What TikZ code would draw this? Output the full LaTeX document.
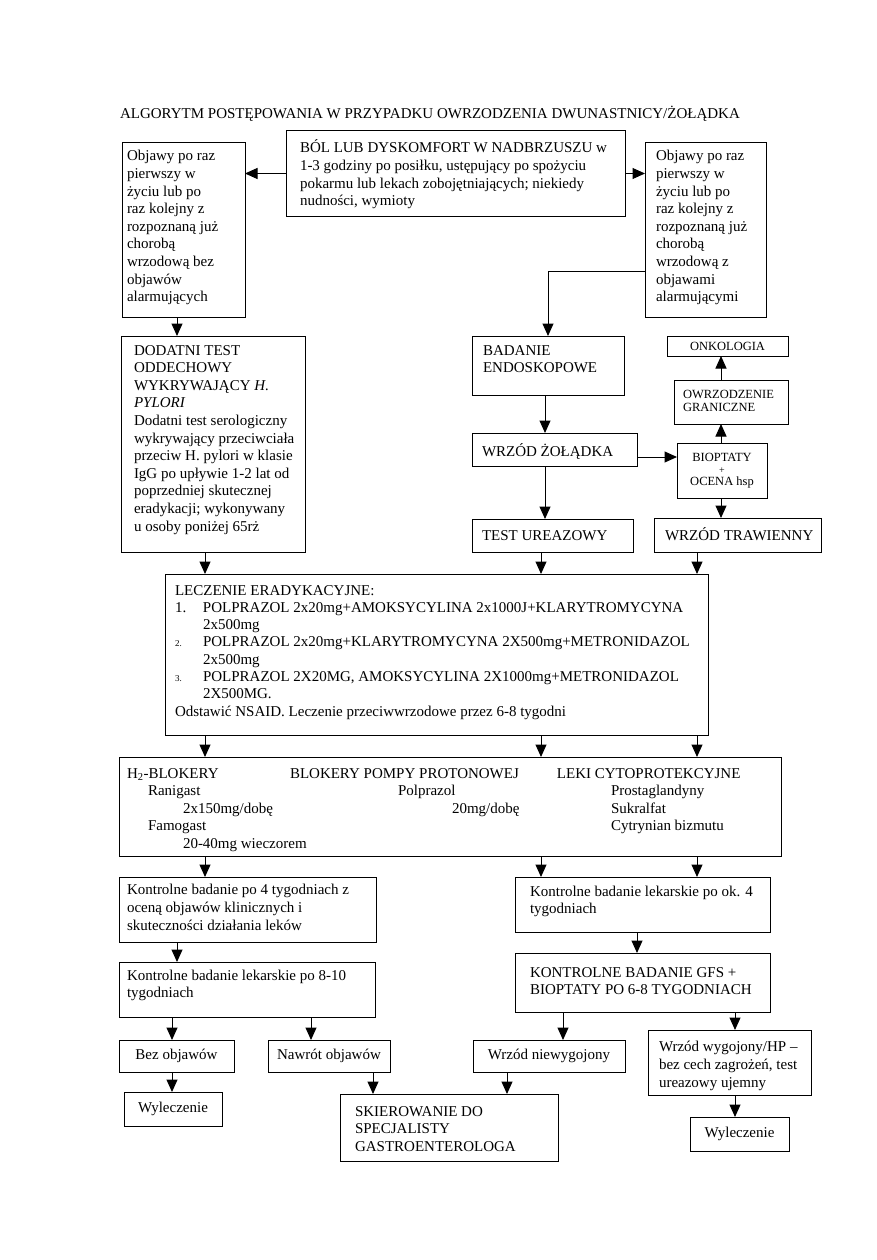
\documentclass[tikz,border=0pt]{standalone}
\usepackage{fontspec}
\setmainfont{Liberation Serif}
\usetikzlibrary{arrows.meta}
\newcommand\fmain{\fontsize{15}{17.6}\selectfont}
\newcommand\flec{\fontsize{15}{17.3}\selectfont}
\newcommand\fsmall{\fontsize{12.5}{13.5}\selectfont}
\newcommand\fbio{\fontsize{12.5}{12}\selectfont}
\newcommand\rl[1]{\leavevmode\rlap{#1}\par}
\newcommand\at[2]{\leavevmode\rlap{\hspace*{#1pt}#2}}
\tikzset{
  bxs/.style={draw, line width=1pt, inner ysep=0pt, outer sep=0pt, anchor=north west},
  arr/.style={-{Triangle[length=12.5pt,width=11pt]}, line width=1pt}
}
% name x1 y1 x2 y2 padx baseline font content
\newcommand\mybox[9]{%
  \pgfmathsetlengthmacro\mbw{(#4)-(#2)}%
  \pgfmathsetlengthmacro\mbh{(#5)-(#3)}%
  \pgfmathsetlengthmacro\mbt{(#4)-(#2)-2*(#6)}%
  \node[bxs, minimum width=\mbw, minimum height=\mbh, inner xsep=#6pt] (#1) at (#2,#3)
   {\parbox[c][\mbh][t]{\mbt}{#8\raggedright\vspace*{\dimexpr#7pt-\baselineskip\relax}\hbox{}#9}};}
% name x1 y1 x2 y2 font text
\newcommand\cbox[7]{%
  \pgfmathsetlengthmacro\mbw{(#4)-(#2)}%
  \pgfmathsetlengthmacro\mbh{(#5)-(#3)}%
  \node[bxs, minimum width=\mbw, minimum height=\mbh, align=center, font=#6] (#1) at (#2,#3) {#7};}
\begin{document}
\begin{tikzpicture}[x=1pt,y=-1pt]
\useasboundingbox (0,0) rectangle (876,1260);
\node[font=\fmain] (title) at (430,114) {ALGORYTM POSTĘPOWANIA W PRZYPADKU OWRZODZENIA DWUNASTNICY/ŻOŁĄDKA};

\mybox{L1}{122}{143}{245}{317}{5}{18}{\fmain}{\rl{Objawy po raz}\rl{pierwszy w}\rl{życiu lub po}\rl{raz kolejny z}\rl{rozpoznaną już}\rl{chorobą}\rl{wrzodową bez}\rl{objawów}\rl{alarmujących}}
\mybox{T}{286}{131}{625}{216}{14}{22}{\fmain}{\rl{BÓL LUB DYSKOMFORT W NADBRZUSZU w}\rl{1-3 godziny po posiłku, ustępujący po spożyciu}\rl{pokarmu lub lekach zobojętniających; niekiedy}\rl{nudności, wymioty}}
\mybox{R1}{645}{143}{766}{317}{11}{18}{\fmain}{\rl{Objawy po raz}\rl{pierwszy w}\rl{życiu lub po}\rl{raz kolejny z}\rl{rozpoznaną już}\rl{chorobą}\rl{wrzodową z}\rl{objawami}\rl{alarmującymi}}
\mybox{D}{121}{336}{305}{552}{13}{19}{\fmain}{\rl{DODATNI TEST}\rl{ODDECHOWY}\rl{WYKRYWAJĄCY \textit{H.}}\rl{\textit{PYLORI}}\rl{Dodatni test serologiczny}\rl{wykrywający przeciwciała}\rl{przeciw H. pylori w klasie}\rl{IgG po upływie 1-2 lat od}\rl{poprzedniej skutecznej}\rl{eradykacji; wykonywany}\rl{u osoby poniżej 65rż}}
\mybox{B}{472}{336}{624}{395}{11}{19}{\fmain}{\rl{BADANIE}\rl{ENDOSKOPOWE}}
\cbox{ONK}{667}{336}{788}{356}{\fbio}{ONKOLOGIA}
\mybox{OWR}{674}{380}{788}{424}{9}{18}{\fsmall}{\rl{OWRZODZENIE}\rl{GRANICZNE}}
\mybox{WZ}{472}{433}{637}{466}{10}{23}{\fmain}{\rl{WRZÓD ŻOŁĄDKA}}
\cbox{BIO}{677}{443}{767}{498}{\fbio}{BIOPTATY\\{\fontsize{10}{12}\selectfont +}\\OCENA hsp}
\mybox{TU}{472}{519}{633}{552}{10}{21}{\fmain}{\rl{TEST UREAZOWY}}
\mybox{WT}{654}{518}{821}{552}{11}{22}{\fmain}{\rl{WRZÓD TRAWIENNY}}

\mybox{LEC}{165}{574}{708}{735}{10}{21}{\flec}{%
\at{0}{LECZENIE ERADYKACYJNE:}\par
\at{0}{1.}\at{28}{POLPRAZOL 2x20mg+AMOKSYCYLINA 2x1000J+KLARYTROMYCYNA}\par
\at{28}{2x500mg}\par
\at{0}{\fontsize{9}{10}\selectfont 2.}\at{28}{POLPRAZOL 2x20mg+KLARYTROMYCYNA 2X500mg+METRONIDAZOL}\par
\at{28}{2x500mg}\par
\at{0}{\fontsize{9}{10}\selectfont 3.}\at{28}{POLPRAZOL 2X20MG, AMOKSYCYLINA 2X1000mg+METRONIDAZOL}\par
\at{28}{2X500MG.}\par
\at{0}{Odstawić NSAID. Leczenie przeciwwrzodowe przez 6-8 tygodni}\par}

\mybox{H2}{119}{757}{781}{856}{8}{21}{\fontsize{15}{17.5}\selectfont}{%
\at{0}{H\textsubscript{2}-BLOKERY}\at{163}{BLOKERY POMPY PROTONOWEJ}\at{430}{LEKI CYTOPROTEKCYJNE}\par
\at{21}{Ranigast}\at{271}{Polprazol}\at{484}{Prostaglandyny}\par
\at{56}{2x150mg/dobę}\at{325}{20mg/dobę}\at{484}{Sukralfat}\par
\at{21}{Famogast}\at{484}{Cytrynian bizmutu}\par
\at{56}{20-40mg wieczorem}\par}

\mybox{K4L}{119}{877}{376}{942}{8}{17}{\fontsize{15}{18}\selectfont}{\rl{Kontrolne badanie po 4 tygodniach z}\rl{oceną objawów klinicznych i}\rl{skuteczności działania leków}}
\mybox{K4R}{515}{877}{770}{932}{15}{19}{\fmain}{\rl{Kontrolne badanie lekarskie po ok. 4}\rl{tygodniach}}
\mybox{K810}{119}{962}{375}{1017}{8}{18}{\fmain}{\rl{Kontrolne badanie lekarskie po 8-10}\rl{tygodniach}}
\mybox{GFS}{515}{953}{770}{1012}{15}{24}{\fmain}{\rl{KONTROLNE BADANIE GFS +}\rl{BIOPTATY PO 6-8 TYGODNIACH}}
\cbox{Bez}{119}{1040}{234}{1072}{\fmain}{Bez objawów}
\cbox{Naw}{268}{1040}{390}{1072}{\fmain}{Nawrót objawów}
\cbox{Niew}{473}{1040}{625}{1072}{\fmain}{Wrzód niewygojony}
\mybox{Wyg}{648}{1030}{811}{1095}{11}{21}{\fontsize{15}{18}\selectfont}{\rl{Wrzód wygojony/HP –}\rl{bez cech zagrożeń, test}\rl{ureazowy ujemny}}
\cbox{WylL}{124}{1092}{222}{1126}{\fmain}{Wyleczenie}
\mybox{SK}{340}{1094}{558}{1161}{15}{22}{\fmain}{\rl{SKIEROWANIE DO}\rl{SPECJALISTY}\rl{GASTROENTEROLOGA}}
\cbox{WylR}{690}{1117}{789}{1151}{\fmain}{Wyleczenie}

% connector positions
\coordinate (c172) at (172,0);
\coordinate (c177) at (177,0);
\coordinate (c205) at (205,0);
\coordinate (c311) at (311,0);
\coordinate (c373) at (373,0);
\coordinate (c507) at (507,0);
\coordinate (c541) at (541,0);
\coordinate (c545) at (545,0);
\coordinate (c563) at (563,0);
\coordinate (c637) at (637,0);
\coordinate (c697) at (697,0);
\coordinate (c721) at (721,0);
\coordinate (c735) at (735,0);
\coordinate (y271) at (0,271);
\coordinate (y457) at (0,457);

\draw[arr] (T.west) -- (L1.east |- T.west);
\draw[arr] (T.east) -- (R1.west |- T.east);
\draw[arr] (R1.west |- y271) -| (B.north);
\draw[arr] (L1.south -| c177) -- (D.north -| c177);
\draw[arr] (B.south -| c545) -- (WZ.north -| c545);
\draw[arr] (WZ.south -| c545) -- (TU.north -| c545);
\draw[arr] (WZ.east |- y457) -- (BIO.west |- y457);
\draw[arr] (BIO.north -| c721) -- (OWR.south -| c721);
\draw[arr] (OWR.north -| c721) -- (ONK.south -| c721);
\draw[arr] (BIO.south -| c721) -- (WT.north -| c721);
\draw[arr] (D.south -| c205) -- (LEC.north -| c205);
\draw[arr] (TU.south -| c541) -- (LEC.north -| c541);
\draw[arr] (WT.south -| c697) -- (LEC.north -| c697);
\draw[arr] (LEC.south -| c205) -- (H2.north -| c205);
\draw[arr] (LEC.south -| c541) -- (H2.north -| c541);
\draw[arr] (LEC.south -| c697) -- (H2.north -| c697);
\draw[arr] (H2.south -| c205) -- (K4L.north -| c205);
\draw[arr] (H2.south -| c541) -- (K4R.north -| c541);
\draw[arr] (H2.south -| c697) -- (K4R.north -| c697);
\draw[arr] (K4L.south -| c177) -- (K810.north -| c177);
\draw[arr] (K4R.south -| c637) -- (GFS.north -| c637);
\draw[arr] (K810.south -| c172) -- (Bez.north -| c172);
\draw[arr] (K810.south -| c311) -- (Naw.north -| c311);
\draw[arr] (GFS.south -| c563) -- (Niew.north -| c563);
\draw[arr] (GFS.south -| c735) -- (Wyg.north -| c735);
\draw[arr] (Bez.south -| c172) -- (WylL.north -| c172);
\draw[arr] (Naw.south -| c373) -- (SK.north -| c373);
\draw[arr] (Niew.south -| c507) -- (SK.north -| c507);
\draw[arr] (Wyg.south -| c735) -- (WylR.north -| c735);
\end{tikzpicture}
\end{document}
